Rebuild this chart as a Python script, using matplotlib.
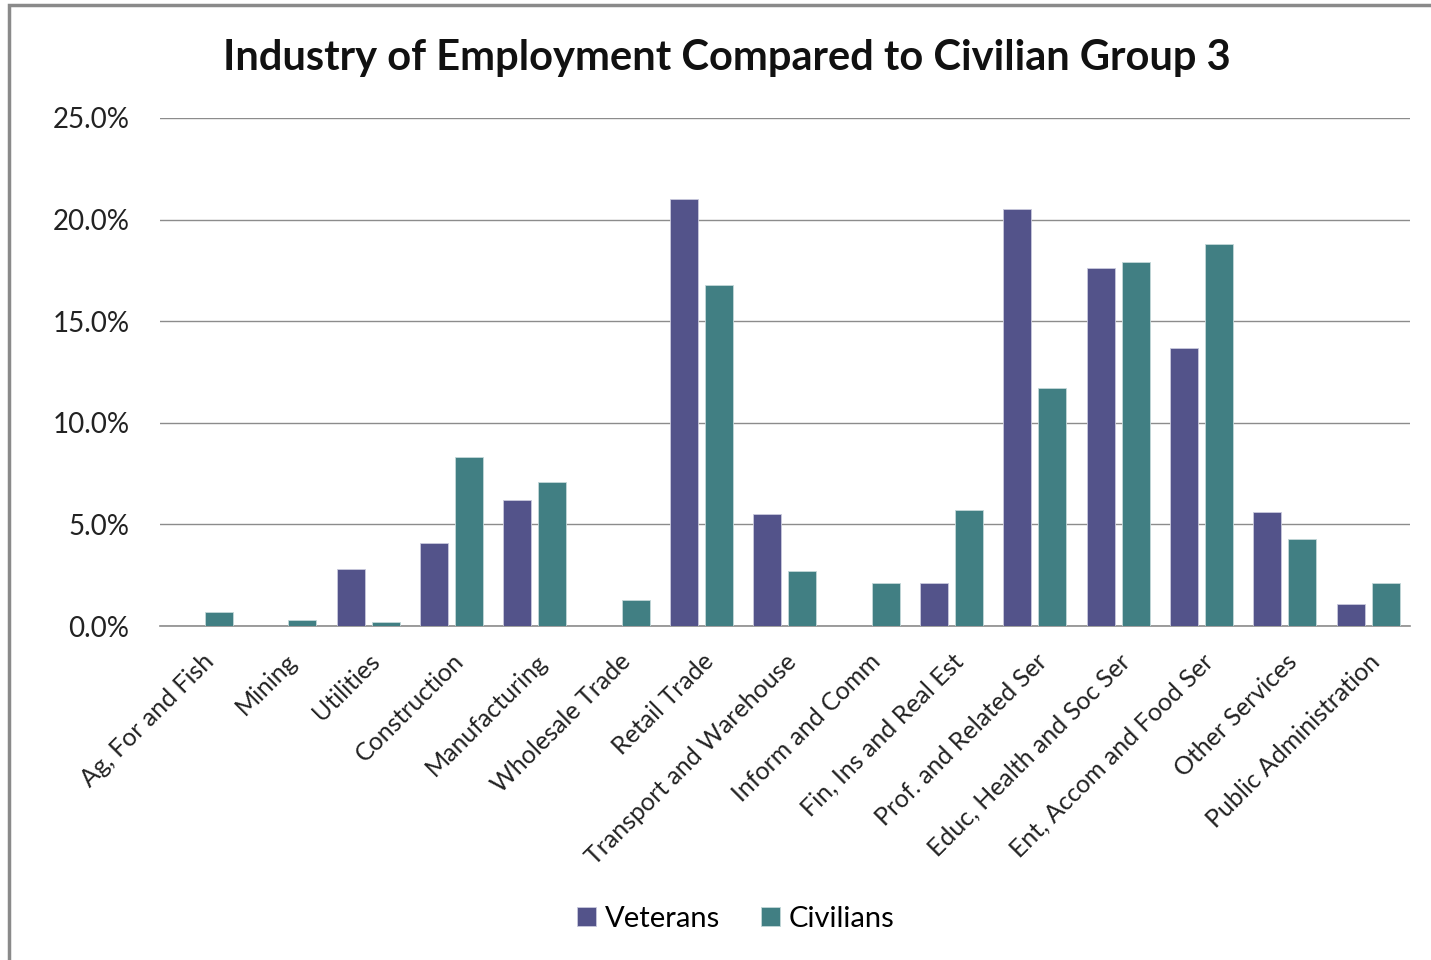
import matplotlib.pyplot as plt
import matplotlib.patches as patches
import numpy as np

# Share of employment by industry, in percent
industries = ["Ag, For and Fish", "Mining", "Utilities", "Construction", "Manufacturing",
              "Wholesale Trade", "Retail Trade", "Transport and Warehouse", "Inform and Comm",
              "Fin, Ins and Real Est", "Prof. and Related Ser", "Educ, Health and Soc Ser",
              "Ent, Accom and Food Ser", "Other Services", "Public Administration"]
veterans = [0.0, 0.0, 2.8, 4.1, 6.2, 0.0, 21.0, 5.5, 0.0, 2.1, 20.5, 17.6, 13.7, 5.6, 1.1]
civilians = [0.7, 0.3, 0.2, 8.3, 7.1, 1.3, 16.8, 2.7, 2.1, 5.7, 11.7, 17.9, 18.8, 4.3, 2.1]
yticks = [0, 5, 10, 15, 20, 25]

plt.rcParams['font.family'] = ['Lato', 'DejaVu Sans']

fig = plt.figure(figsize=(14.31, 9.6), dpi=100)
ax = fig.add_axes([0.1118, 0.3479, 0.8735, 0.5292])

x = np.arange(len(industries))
w = 0.336
ax.bar(x - 0.212, veterans, w, color="#53538A", edgecolor="#c9c9dc", linewidth=0.6,
       label="Veterans", zorder=3)
ax.bar(x + 0.208, civilians, w, color="#417F83", edgecolor="#c3d8d9", linewidth=0.6,
       label="Civilians", zorder=3)

ax.set_xlim(-0.5, len(industries) - 0.5)
ax.set_ylim(0, 25)
ax.set_yticks(yticks)
ax.set_yticklabels([f"{v:.1f}%" for v in yticks], fontsize=20, color="#222222")
ax.tick_params(axis='y', length=0, pad=22)
ax.yaxis.grid(True, color="#8c8c8c", linewidth=1.0, zorder=0)

ax.set_xticks(x)
ax.set_xticklabels(industries, rotation=45, ha='right', va='top', rotation_mode='anchor',
                   fontsize=18, color="#222222")
ax.tick_params(axis='x', length=0, pad=17)

for side in ['top', 'right', 'left']:
    ax.spines[side].set_visible(False)
ax.spines['bottom'].set_color("#8c8c8c")
ax.spines['bottom'].set_linewidth(1.2)

fig.text(0.508, 0.94, "Industry of Employment Compared to Civilian Group 3",
         ha='center', va='center', fontsize=30, fontweight='bold', color="#111111")

fig.legend(loc='center', bbox_to_anchor=(0.514, 0.043), ncol=2, frameon=False,
           fontsize=21, handlelength=0.65, handleheight=0.65, handletextpad=0.3,
           columnspacing=1.4)

# outer chart frame
fig.patches.append(patches.Rectangle((9 / 1431, -0.05), 1.2, 1 - 5 / 960 + 0.05,
                                     transform=fig.transFigure, fill=False,
                                     edgecolor="#8a8a8a", linewidth=2.5))

fig.savefig("out.png", dpi=100)
